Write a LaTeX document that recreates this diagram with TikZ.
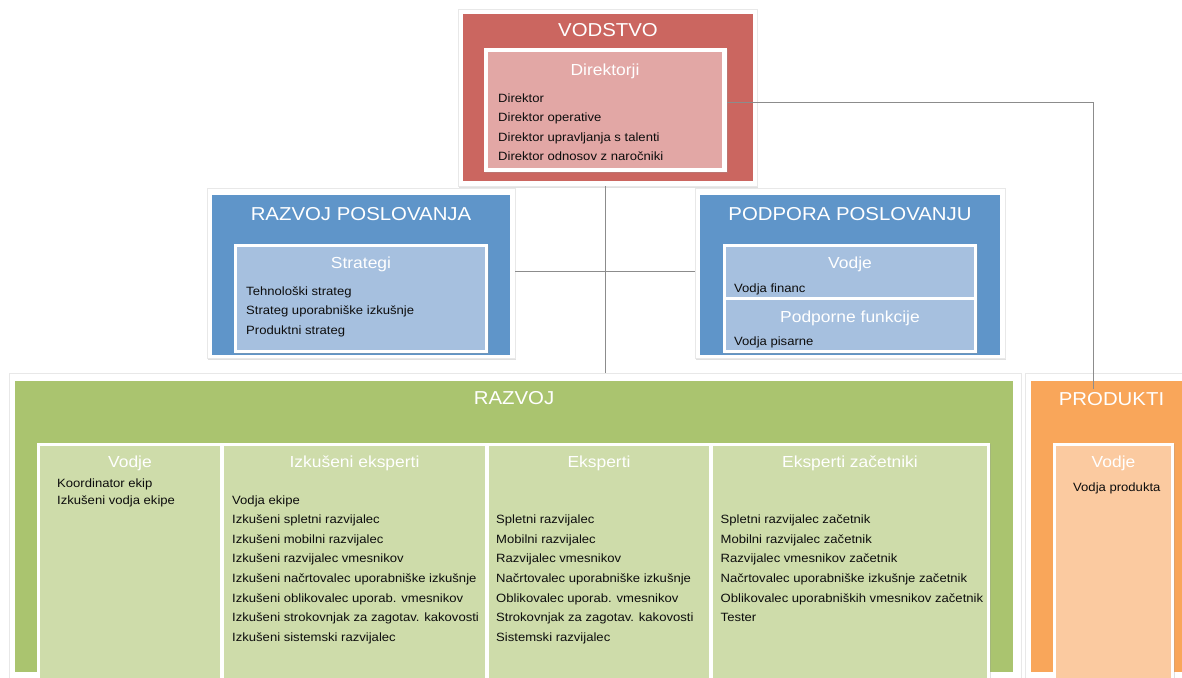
\documentclass[tikz,border=0pt]{standalone}
\usepackage{fontspec}
\setmainfont[FakeStretch=1.09]{Liberation Sans}
\usetikzlibrary{shadows}
\definecolor{vodred}{HTML}{CB6660}
\definecolor{vodpink}{HTML}{E2A7A5}
\definecolor{posblue}{HTML}{5F95C9}
\definecolor{poslight}{HTML}{A6C0DF}
\definecolor{razgreen}{HTML}{AAC46F}
\definecolor{razlight}{HTML}{CEDCAA}
\definecolor{prodorange}{HTML}{F9A65A}
\definecolor{prodlight}{HTML}{FBCAA0}
\definecolor{linkgray}{HTML}{8C8C8C}
\tikzset{
  box/.style={rectangle, inner sep=0pt, outer sep=0pt, anchor=north west},
  frame/.style={box, fill=white, draw=black!9, line width=0.7pt, drop shadow={shadow xshift=1pt, shadow yshift=-1.5pt, fill=black!40, opacity=0.3}},
  inframe/.style={box, fill=white, drop shadow={shadow xshift=0.8pt, shadow yshift=-1pt, fill=black!40, opacity=0.3}},
  ttl/.style={text=white, font=\fontsize{18.7}{20}\selectfont, anchor=base, inner sep=0pt},
  sub/.style={text=white, font=\fontsize{16}{18}\selectfont, anchor=base, inner sep=0pt},
  itm/.style={text=black!95, font=\fontsize{12}{14}\selectfont, anchor=base west, inner sep=0pt},
  link/.style={draw=linkgray, line width=0.9pt}
}
\begin{document}
\begin{tikzpicture}[x=1pt, y=-1pt]
\useasboundingbox (0,0) rectangle (1182,677);
\clip (0,0) rectangle (1182,677);

% vodstvo
\node[frame, minimum width=299pt, minimum height=177pt] (vodframe) at (458,9) {};
\node[box, fill=vodred, minimum width=290pt, minimum height=167pt] (vodstvo) at (463,14) {};
\node[ttl] (vodstvo-t) at ([yshift=-23pt]vodstvo.north) {VODSTVO};
\node[inframe, minimum width=243pt, minimum height=124pt] (dirframe) at (484,48) {};
\node[box, fill=vodpink, minimum width=234pt, minimum height=116pt] (dir) at (488,52) {};
\node[sub] (dir-t) at ([yshift=-23pt]dir.north) {Direktorji};
\foreach \t [count=\i from 0] in {Direktor, Direktor operative, Direktor upravljanja s talenti, Direktor odnosov z naročniki}
  \node[itm] (dir-\i) at (498,102+19.5*\i) {\t};

% razvoj poslovanja
\node[frame, minimum width=308pt, minimum height=170pt] (rposlframe) at (207,188) {};
\node[box, fill=posblue, minimum width=298pt, minimum height=160pt] (rposl) at (212,195) {};
\node[ttl] (rposl-t) at ([yshift=-25pt]rposl.north) {RAZVOJ POSLOVANJA};
\node[inframe, minimum width=254pt, minimum height=109pt] (stratframe) at (234,244) {};
\node[box, fill=poslight, minimum width=248pt, minimum height=103pt] (strat) at (237,247) {};
\node[sub] (strat-t) at ([yshift=-21pt]strat.north) {Strategi};
\foreach \t [count=\i from 0] in {Tehnološki strateg, Strateg uporabniške izkušnje, Produktni strateg}
  \node[itm] (strat-\i) at (246,295+19.5*\i) {\t};

% podpora poslovanju
\node[frame, minimum width=310pt, minimum height=170pt] (pposlframe) at (695,188) {};
\node[box, fill=posblue, minimum width=300pt, minimum height=160pt] (pposl) at (700,195) {};
\node[ttl] (pposl-t) at ([yshift=-25pt]pposl.north) {PODPORA POSLOVANJU};
\node[inframe, minimum width=254pt, minimum height=109pt] (ppframe) at (723,244) {};
\node[box, fill=poslight, minimum width=248pt, minimum height=50pt] (ppvodje) at (726,247) {};
\node[sub] (ppvodje-t) at ([yshift=-21pt]ppvodje.north) {Vodje};
\node[itm] (ppvodje-0) at (734,292) {Vodja financ};
\node[box, fill=poslight, minimum width=248pt, minimum height=50pt] (ppfunk) at (726,300) {};
\node[sub] (ppfunk-t) at ([yshift=-22pt]ppfunk.north) {Podporne funkcije};
\node[itm] (ppfunk-0) at (734,345) {Vodja pisarne};

% razvoj
\node[frame, minimum width=1012pt, minimum height=320pt] (razframe) at (9,373) {};
\node[box, fill=razgreen, minimum width=998pt, minimum height=291pt] (razvoj) at (15,381) {};
\node[ttl] (razvoj-t) at ([yshift=-23pt]razvoj.north) {RAZVOJ};
\node[inframe, minimum width=953pt, minimum height=250pt] (colframe) at (37,443) {};
\node[box, fill=razlight, minimum width=180pt, minimum height=250pt] (vodje) at (40,446) {};
\node[box, fill=razlight, minimum width=261pt, minimum height=250pt] (izk) at (224,446) {};
\node[box, fill=razlight, minimum width=220pt, minimum height=250pt] (eks) at (489,446) {};
\node[box, fill=razlight, minimum width=274pt, minimum height=250pt] (zac) at (713,446) {};
\node[sub] (vodje-t) at ([yshift=-21pt]vodje.north) {Vodje};
\node[sub] (izk-t) at ([yshift=-21pt]izk.north) {Izkušeni eksperti};
\node[sub] (eks-t) at ([yshift=-21pt]eks.north) {Eksperti};
\node[sub] (zac-t) at ([yshift=-21pt]zac.north) {Eksperti začetniki};
\foreach \t [count=\i from 0] in {Koordinator ekip, Izkušeni vodja ekipe}
  \node[itm] (vodje-\i) at (57,487+17.3*\i) {\t};
\foreach \t [count=\i from 0] in {Vodja ekipe, Izkušeni spletni razvijalec, Izkušeni mobilni razvijalec, Izkušeni razvijalec vmesnikov, Izkušeni načrtovalec uporabniške izkušnje, Izkušeni oblikovalec uporab. vmesnikov, Izkušeni strokovnjak za zagotav. kakovosti, Izkušeni sistemski razvijalec}
  \node[itm] (izk-\i) at (232,504+19.6*\i) {\t};
\foreach \t [count=\i from 0] in {Spletni razvijalec, Mobilni razvijalec, Razvijalec vmesnikov, Načrtovalec uporabniške izkušnje, Oblikovalec uporab. vmesnikov, Strokovnjak za zagotav. kakovosti, Sistemski razvijalec}
  \node[itm] (eks-\i) at (496,523.6+19.6*\i) {\t};
\foreach \t [count=\i from 0] in {Spletni razvijalec začetnik, Mobilni razvijalec začetnik, Razvijalec vmesnikov začetnik, Načrtovalec uporabniške izkušnje začetnik, Oblikovalec uporabniških vmesnikov začetnik, Tester}
  \node[itm] (zac-\i) at (720.5,523.6+19.6*\i) {\t};

% produkti
\node[frame, minimum width=180pt, minimum height=320pt] (prodframe) at (1025,373) {};
\node[box, fill=prodorange, minimum width=161pt, minimum height=291pt] (produkti) at (1031,381) {};
\node[ttl] (produkti-t) at ([yshift=-24pt]produkti.north) {PRODUKTI};
\node[inframe, minimum width=121pt, minimum height=250pt] (pvframe) at (1053,443) {};
\node[box, fill=prodlight, minimum width=115pt, minimum height=250pt] (pvodje) at (1056,446) {};
\node[sub] (pvodje-t) at ([yshift=-21pt]pvodje.north) {Vodje};
\node[itm] (pvodje-0) at (1073,491) {Vodja produkta};

% povezave
\coordinate (pk) at (1093,389);
\draw[link] ([xshift=-2.5pt]vodframe.south) -- ([xshift=-2.5pt]vodframe.south |- razframe.north);
\draw[link] ([yshift=2pt]rposlframe.east) -- ([yshift=2pt]pposlframe.west);
\draw[link] ([yshift=8pt]dirframe.east) -| (pk);
\end{tikzpicture}
\end{document}
